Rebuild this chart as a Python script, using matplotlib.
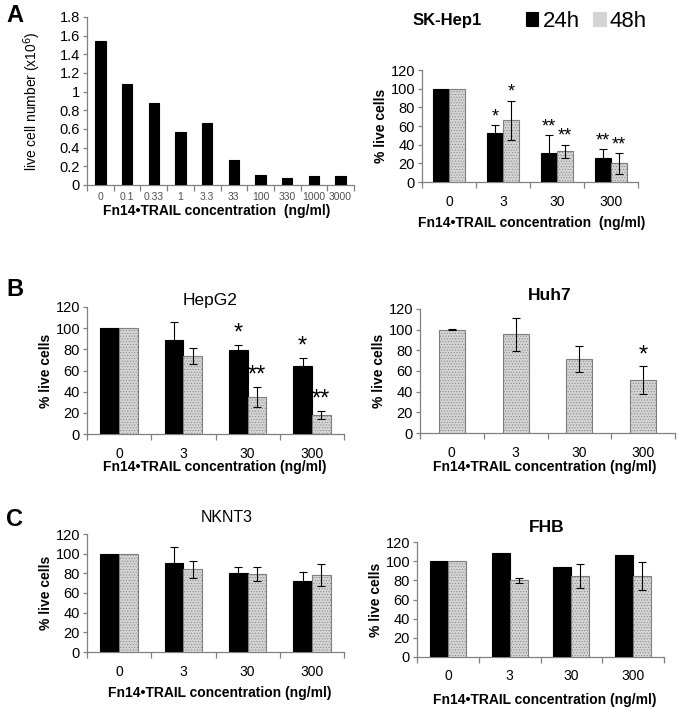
"""Fn14-TRAIL dose response panels (A-C)."""

import matplotlib.pyplot as plt
import numpy as np
from matplotlib.patches import Patch

plt.rcParams["font.family"] = ["Liberation Sans", "DejaVu Sans"]
plt.rcParams["hatch.linewidth"] = 0.4

# panel A, left: live cell number after 24h
dose_labels = ["0", "0.1", "0.33", "1", "3.3", "33", "100", "330", "1000", "3000"]
cell_number = [1.54, 1.08, 0.88, 0.565, 0.665, 0.265, 0.105, 0.08, 0.1, 0.1]

conc_labels = ["0", "3", "30", "300"]

# SK-Hep1
skhep1_24h = [100, 53, 31, 26]
skhep1_24h_err = [0, 8, 19, 9]
skhep1_24h_sig = ["", "*", "**", "**"]
skhep1_48h = [100, 66, 33, 20]
skhep1_48h_err = [0, 21, 7, 11]
skhep1_48h_sig = ["", "*", "**", "**"]

# HepG2
hepg2_24h = [100, 89, 79, 64]
hepg2_24h_err = [0, 17, 5, 8]
hepg2_24h_sig = ["", "", "*", "*"]
hepg2_48h = [100, 74, 35, 18]
hepg2_48h_err = [0, 7.5, 9.5, 3.5]
hepg2_48h_sig = ["", "", "**", "**"]

# Huh7 (48h only)
huh7_48h = [100, 95.5, 72, 51]
huh7_48h_err = [0.5, 16, 12.5, 13.5]
huh7_48h_sig = ["", "", "", "*"]

# NKNT3
nknt3_24h = [100, 90.5, 80.5, 72]
nknt3_24h_err = [0, 16, 5.5, 9]
nknt3_48h = [100, 84, 79, 78.5]
nknt3_48h_err = [0, 8.5, 7, 11.5]

# FHB
fhb_24h = [100, 109, 94, 106.5]
fhb_48h = [100, 80, 84.5, 84.5]
fhb_48h_err = [0, 2.6, 13, 15]

W, H = 683, 709
HATCH = dict(color="#d4d4d4", edgecolor="#7f7f7f", hatch="......", linewidth=0.8)
SOLID = dict(color="black", edgecolor="black", linewidth=0.8)


def _rect(x0, x1, y_top, y_bottom):
    return [x0 / W, 1 - y_bottom / H, (x1 - x0) / W, (y_bottom - y_top) / H]


def style_axes(ax, labels, ylim, yticks, xtick_size=10, xtick_color="black"):
    n = len(labels)
    for side in ("top", "right"):
        ax.spines[side].set_visible(False)
    for side in ("left", "bottom"):
        ax.spines[side].set_color("#808080")
        ax.spines[side].set_linewidth(0.9)
    ax.set_xlim(-0.5, n - 0.5)
    ax.set_ylim(*ylim)
    ax.set_yticks(yticks)
    ax.set_xticks(np.arange(n))
    ax.set_xticklabels(labels, fontsize=xtick_size, color=xtick_color)
    ax.set_xticks(np.arange(n + 1) - 0.5, minor=True)
    ax.tick_params(axis="x", which="major", length=0, pad=9)
    ax.tick_params(axis="x", which="minor", length=4, color="#808080", width=0.9)
    ax.tick_params(axis="y", length=3, color="#808080", width=0.9, labelsize=10.5, pad=2)


def draw_errors(ax, x, vals, errs):
    vals, errs = np.asarray(vals, float), np.asarray(errs, float)
    keep = errs > 0
    ax.errorbar(x[keep], vals[keep], yerr=errs[keep], fmt="none", ecolor="black",
                elinewidth=0.8, capsize=3, capthick=0.8, zorder=4)


def draw_stars(ax, x, vals, errs, marks, size, gap):
    for xi, v, e, m in zip(x, vals, errs, marks):
        if m:
            ax.text(xi, v + e + gap, m, ha="center", va="center", fontsize=size)


def grouped(ax, v24, e24, v48, e48, s24=None, s48=None, star_size=13, gap=9):
    x = np.arange(len(conc_labels))
    w = 0.29
    ax.bar(x - w / 2, v24, width=w, **SOLID, zorder=3)
    ax.bar(x + w / 2, v48, width=w, **HATCH, zorder=3)
    if e24 is not None:
        draw_errors(ax, x - w / 2, v24, e24)
    draw_errors(ax, x + w / 2, v48, e48)
    if s24:
        draw_stars(ax, x - w / 2, v24, e24, s24, star_size, gap)
    if s48:
        draw_stars(ax, x + w / 2, v48, e48, s48, star_size, gap)
    style_axes(ax, conc_labels, (0, 120), range(0, 121, 20))
    ax.set_ylabel("% live cells", fontsize=10, fontweight="bold", labelpad=2)


fig = plt.figure(figsize=(W / 100, H / 100), dpi=100)

# A left
ax = fig.add_axes(_rect(87, 354, 17, 185))
ax.bar(np.arange(len(dose_labels)), cell_number, width=0.39, **SOLID, zorder=3)
style_axes(ax, dose_labels, (0, 1.8), np.arange(0, 1.81, 0.2), xtick_size=7.5,
           xtick_color="#505050")
ax.set_yticklabels(["0"] + [f"{t:g}" for t in np.arange(0.2, 1.81, 0.2)])
ax.tick_params(axis="x", which="major", pad=5)
ax.set_ylabel("live cell number (x10$^6$)", fontsize=10, labelpad=12)
fig.text(217 / W, 1 - 211 / H, "Fn14•TRAIL concentration  (ng/ml)", ha="center",
         va="center", fontsize=10, fontweight="bold")

# A right
ax = fig.add_axes(_rect(422, 638, 70, 182))
grouped(ax, skhep1_24h, skhep1_24h_err, skhep1_48h, skhep1_48h_err,
        skhep1_24h_sig, skhep1_48h_sig, star_size=13, gap=9)
fig.text(447 / W, 1 - 20 / H, "SK-Hep1", ha="center", va="center", fontsize=12,
         fontweight="bold")
fig.text(532 / W, 1 - 223 / H, "Fn14•TRAIL concentration  (ng/ml)", ha="center",
         va="center", fontsize=10, fontweight="bold")
fig.legend(handles=[Patch(**SOLID), Patch(**HATCH)], labels=["24h", "48h"],
           loc="upper right", bbox_to_anchor=(656 / W, 1 - 2 / H), ncol=2,
           frameon=False, fontsize=16, handlelength=0.55, handleheight=0.55,
           handletextpad=0.2, columnspacing=0.6, borderaxespad=0)

# B left
ax = fig.add_axes(_rect(87, 344, 307, 434))
grouped(ax, hepg2_24h, hepg2_24h_err, hepg2_48h, hepg2_48h_err,
        hepg2_24h_sig, hepg2_48h_sig, star_size=17, gap=11)
fig.text(210 / W, 1 - 300 / H, "HepG2", ha="center", va="center", fontsize=12.5)
fig.text(215 / W, 1 - 467 / H, "Fn14•TRAIL concentration (ng/ml)", ha="center",
         va="center", fontsize=10, fontweight="bold")

# B right
ax = fig.add_axes(_rect(420, 675, 309, 433))
x = np.arange(len(conc_labels))
ax.bar(x, huh7_48h, width=0.41, **HATCH, zorder=3)
draw_errors(ax, x, huh7_48h, huh7_48h_err)
draw_stars(ax, x, huh7_48h, huh7_48h_err, huh7_48h_sig, 17, 10)
style_axes(ax, conc_labels, (0, 120), range(0, 121, 20))
ax.set_ylabel("% live cells", fontsize=10, fontweight="bold", labelpad=2)
fig.text(550 / W, 1 - 295 / H, "Huh7", ha="center", va="center", fontsize=12.5,
         fontweight="bold")
fig.text(545 / W, 1 - 467 / H, "Fn14•TRAIL concentration (ng/ml)", ha="center",
         va="center", fontsize=10, fontweight="bold")

# C left
ax = fig.add_axes(_rect(87, 344, 534, 652))
grouped(ax, nknt3_24h, nknt3_24h_err, nknt3_48h, nknt3_48h_err)
fig.text(227 / W, 1 - 517 / H, "NKNT3", ha="center", va="center", fontsize=11.5)
fig.text(220 / W, 1 - 693 / H, "Fn14•TRAIL concentration (ng/ml)", ha="center",
         va="center", fontsize=10, fontweight="bold")

# C right
ax = fig.add_axes(_rect(417, 664, 542, 657))
grouped(ax, fhb_24h, None, fhb_48h, fhb_48h_err)
fig.text(547 / W, 1 - 527 / H, "FHB", ha="center", va="center", fontsize=12.5,
         fontweight="bold")
fig.text(545 / W, 1 - 700 / H, "Fn14•TRAIL concentration (ng/ml)", ha="center",
         va="center", fontsize=10, fontweight="bold")

# panel letters
for letter, ypx in (("A", 15), ("B", 290), ("C", 520)):
    fig.text(6 / W, 1 - ypx / H, letter, ha="left", va="center", fontsize=17,
             fontweight="bold")

fig.savefig("out.png", dpi=100)
plt.close(fig)
